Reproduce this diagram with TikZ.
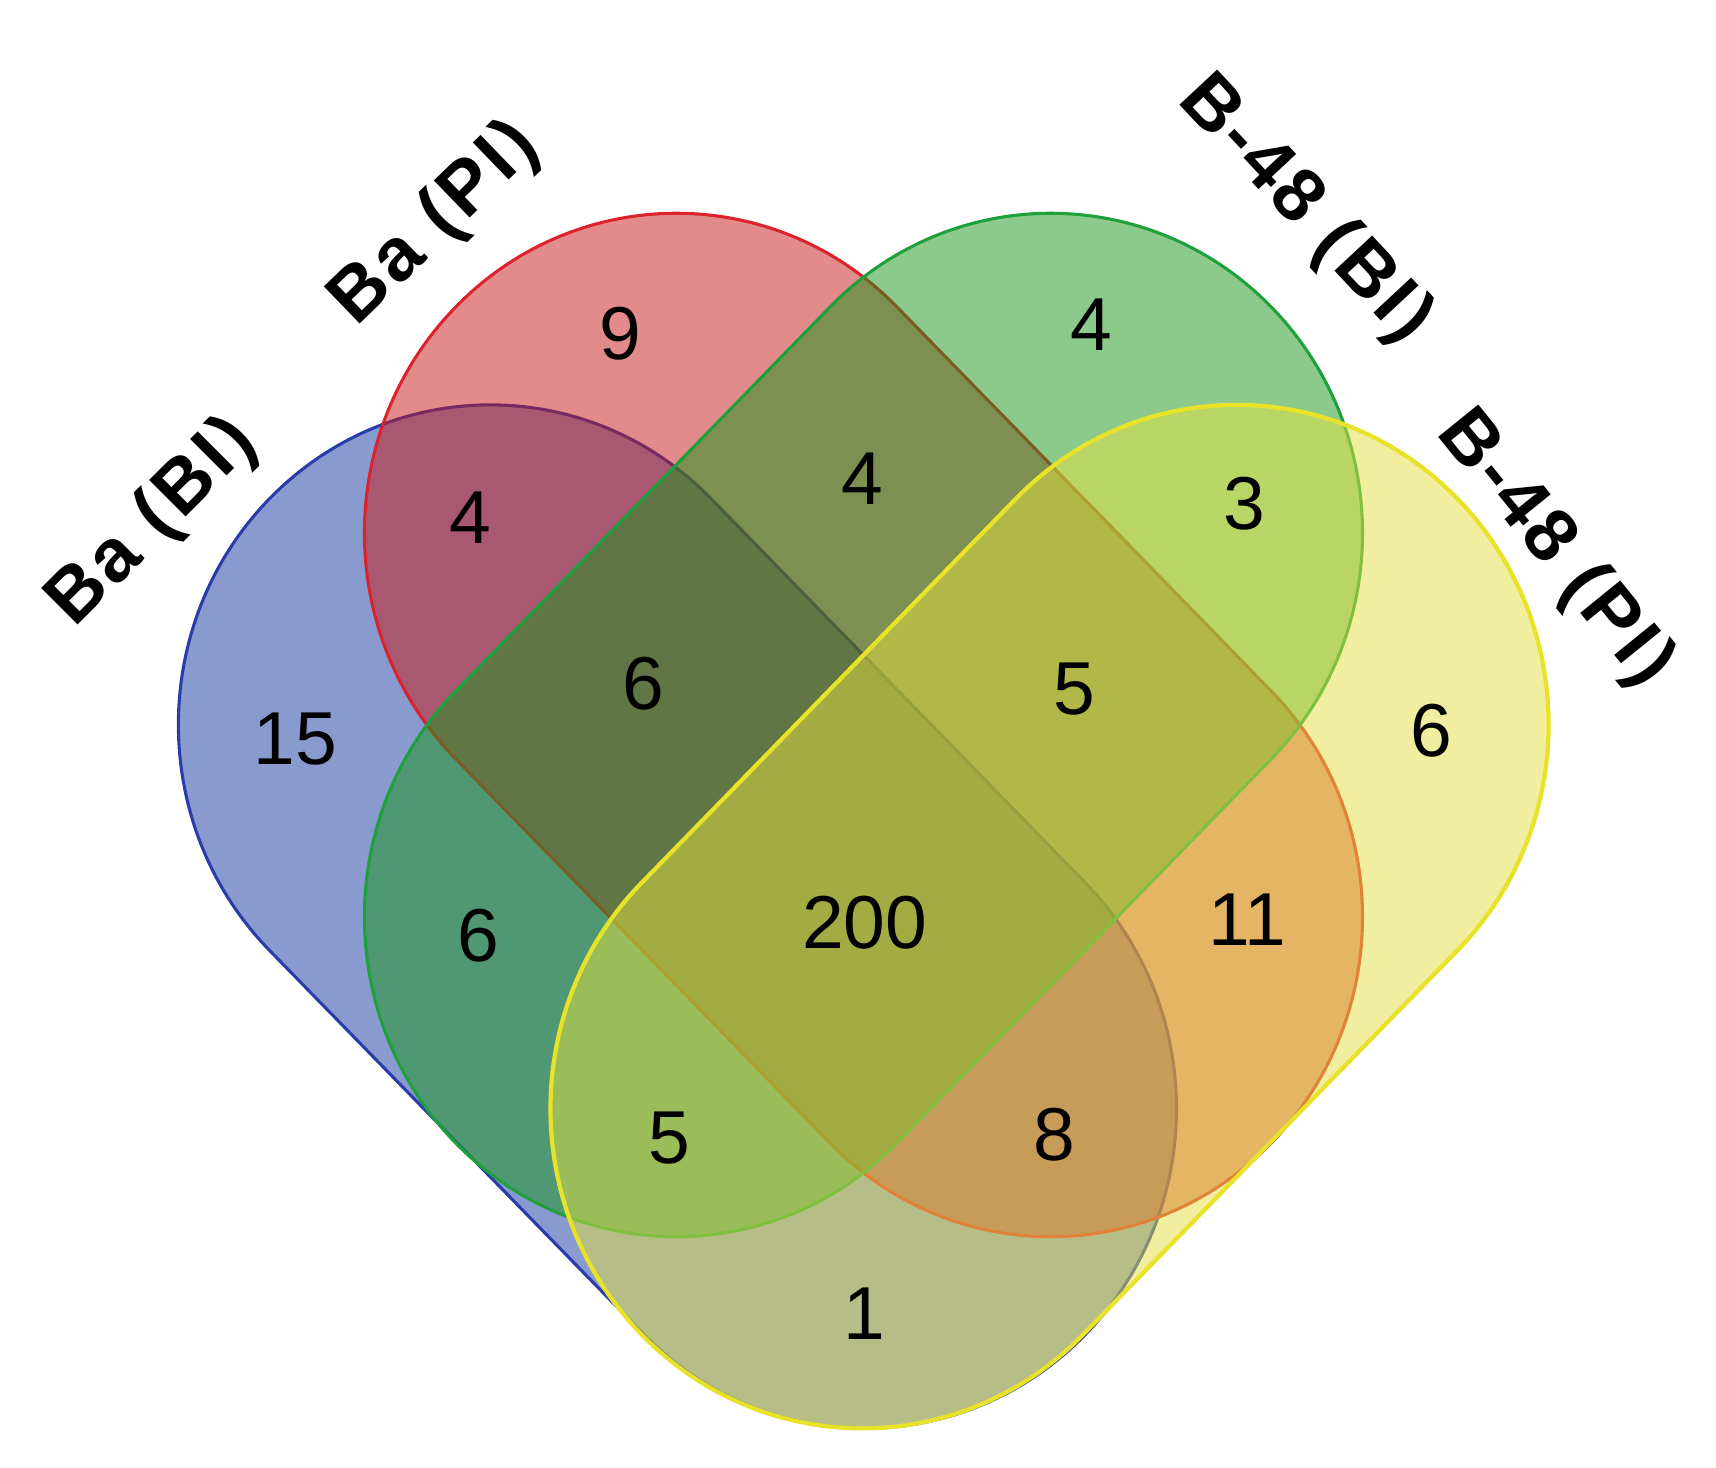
\documentclass[tikz,border=0pt]{standalone}
\usepackage{fontspec}
\setmainfont{Liberation Sans}
\begin{document}
\begin{tikzpicture}[x=1cm,y=1cm]
\definecolor{bluef}{RGB}{21,55,161}
\definecolor{blued}{RGB}{40,60,170}
\definecolor{redf}{RGB}{201,23,23}
\definecolor{redd}{RGB}{220,35,45}
\definecolor{greenf}{RGB}{25,151,25}
\definecolor{greend}{RGB}{30,160,60}
\definecolor{yellowf}{RGB}{229,225,65}
\definecolor{yellowd}{RGB}{232,226,40}
\tikzset{
 setshape/.style={line width=0.8pt, fill opacity=0.5},
 num/.style={font=\fontsize{19.5}{22}\selectfont, inner sep=0pt},
 lab/.style={font=\fontsize{19.5}{22}\selectfont\bfseries\addfontfeature{LetterSpace=5}, inner sep=0pt},
}
\path[use as bounding box] (0,0) rectangle (15.68,-13.41);
\fill[white] (0,0) rectangle (15.68,-13.41);
\begin{scope}[yscale=1.025]
% Ba (BI) - blue
\filldraw[setshape, fill=bluef, draw=blued] (4.48,-6.459) ++(45:2.85) -- ++(3.42,-3.424)
  arc[start angle=45,end angle=-135,radius=2.85] -- ++(-3.42,3.424)
  arc[start angle=225,end angle=45,radius=2.85] -- cycle;
% Ba (PI) - red
\filldraw[setshape, fill=redf, draw=redd] (6.18,-4.751) ++(45:2.85) -- ++(3.42,-3.424)
  arc[start angle=45,end angle=-135,radius=2.85] -- ++(-3.42,3.424)
  arc[start angle=225,end angle=45,radius=2.85] -- cycle;
% B-48 (BI) - green
\filldraw[setshape, fill=greenf, draw=greend] (9.60,-4.751) ++(135:2.85) -- ++(-3.42,-3.424)
  arc[start angle=135,end angle=315,radius=2.85] -- ++(3.42,3.424)
  arc[start angle=-45,end angle=135,radius=2.85] -- cycle;
% B-48 (PI) - yellow
\filldraw[setshape, line width=1.1pt, fill=yellowf, draw=yellowd] (11.30,-6.459) ++(135:2.85) -- ++(-3.42,-3.424)
  arc[start angle=135,end angle=315,radius=2.85] -- ++(3.42,3.424)
  arc[start angle=-45,end angle=135,radius=2.85] -- cycle;
\end{scope}
% labels
\node[lab, rotate=45] (lbBI) at (1.40,-4.78) {Ba (BI)};
\node[lab, rotate=44] (lbPI) at (3.98,-2.05) {Ba (PI)};
\node[lab, rotate=-47] (lcBI) at (11.92,-1.92) {B-48 (BI)};
\node[lab, rotate=-51] (lcPI) at (14.20,-5.02) {B-48 (PI)};
% counts
\node[num] (n15) at (2.70,-6.75) {15};
\node[num] (n9) at (5.67,-3.05) {9};
\node[num] (n4a) at (4.30,-4.73) {4};
\node[num] (n4b) at (9.97,-2.97) {4};
\node[num] (n4c) at (7.88,-4.37) {4};
\node[num] (n3) at (11.37,-4.60) {3};
\node[num] (n6a) at (5.88,-6.25) {6};
\node[num] (n5a) at (9.82,-6.30) {5};
\node[num] (n6b) at (13.08,-6.68) {6};
\node[num] (n6c) at (4.37,-8.55) {6};
\node[num] (n200) at (7.90,-8.43) {200};
\node[num] (n11) at (11.40,-8.40) {11};
\node[num] (n5b) at (6.12,-10.40) {5};
\node[num] (n8) at (9.63,-10.37) {8};
\node[num] (n1) at (7.90,-12.00) {1};
\end{tikzpicture}
\end{document}
